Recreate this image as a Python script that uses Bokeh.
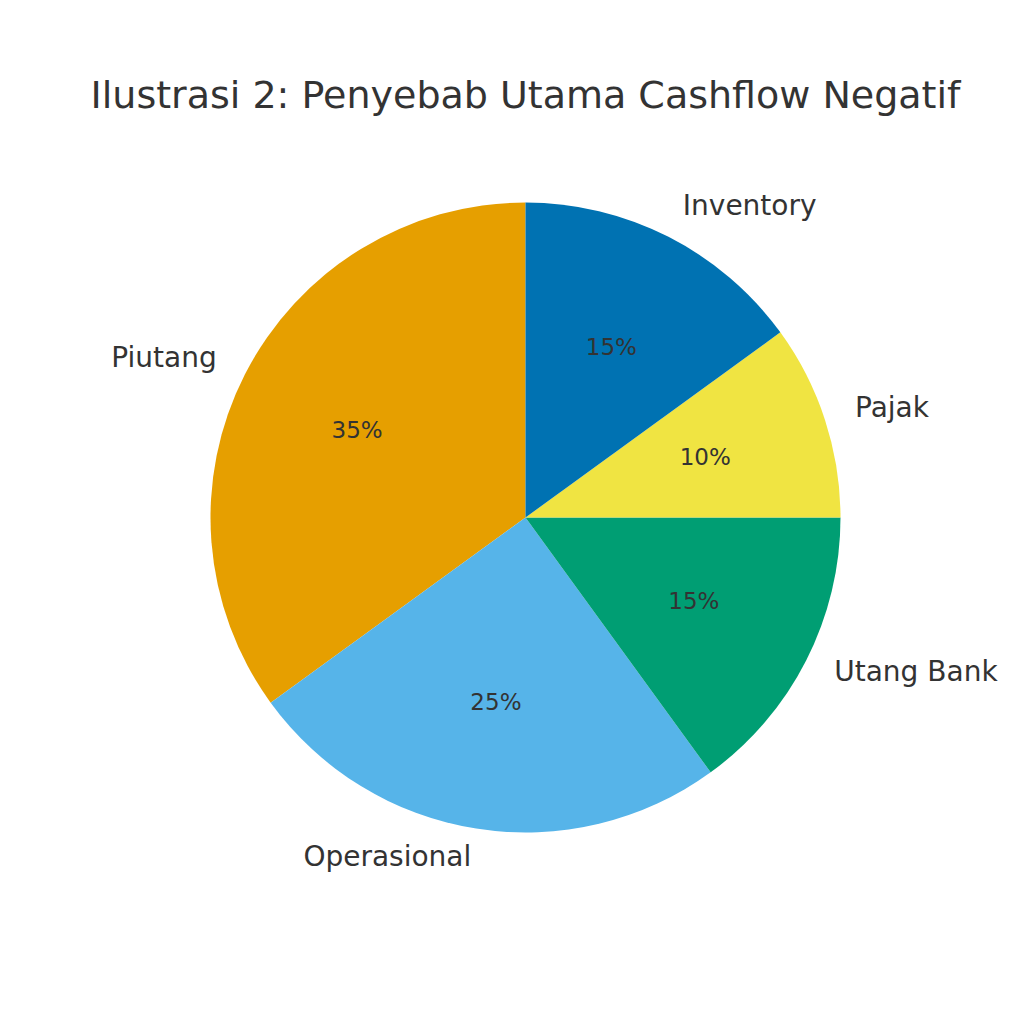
import math
from bokeh.plotting import figure
from bokeh.models import Range1d, ColumnDataSource
from bokeh.core.properties import value
from bokeh.embed import file_html
from bokeh.resources import INLINE

title_text = "Ilustrasi 2: Penyebab Utama Cashflow Negatif"
labels = ["Piutang", "Operasional", "Utang Bank", "Pajak", "Inventory"]
shares = [35, 25, 15, 10, 15]
colors = ["#E69F00", "#56B4E9", "#009E73", "#F0E442", "#0072B2"]

# geometry in pixel-like data units, pie centre at origin
W = H = 1008
cx, cy = 525, 517          # page coordinates of the pie centre
R = 315
start_deg = 90.0

total = float(sum(shares))
starts, ends, mids = [], [], []
a = start_deg
for s in shares:
    span = 360.0 * s / total
    starts.append(math.radians(a))
    ends.append(math.radians(a + span))
    mids.append(math.radians(a + span / 2))
    a += span

src = ColumnDataSource(dict(start=starts, end=ends, color=colors))

p = figure(width=W, height=H, output_backend="svg", toolbar_location=None,
           x_range=Range1d(-cx, W - cx), y_range=Range1d(cy - H, cy),
           min_border=0, outline_line_color=None)
p.axis.visible = False
p.grid.visible = False
p.background_fill_color = "white"
p.border_fill_color = "white"

p.wedge(x=0, y=0, radius=R, start_angle="start", end_angle="end",
        color="color", line_color=None, source=src)

# outer labels
lx = [1.1 * R * math.cos(m) for m in mids]
ly = [1.1 * R * math.sin(m) for m in mids]
align = ["left" if x > 0 else "right" for x in lx]
p.text(x=lx, y=ly, text=labels, text_align=align, text_baseline="middle",
       y_offset=-3,
       text_font=value("DejaVu Sans"), text_font_size="28px", text_color="#333333")

# percentages
px = [0.6 * R * math.cos(m) for m in mids]
py = [0.6 * R * math.sin(m) for m in mids]
pct = ["%d%%" % round(100 * s / total) for s in shares]
p.text(x=px, y=py, text=pct, text_align="center", text_baseline="middle",
       y_offset=-2,
       text_font=value("DejaVu Sans"), text_font_size="23px", text_color="#333333")

# title
p.text(x=[0], y=[cy - 96], text=[title_text], text_align="center", text_baseline="middle",
       y_offset=-2,
       text_font=value("DejaVu Sans"), text_font_size="38px", text_color="#333333")

open("out.html", "w").write(file_html(p, INLINE))
